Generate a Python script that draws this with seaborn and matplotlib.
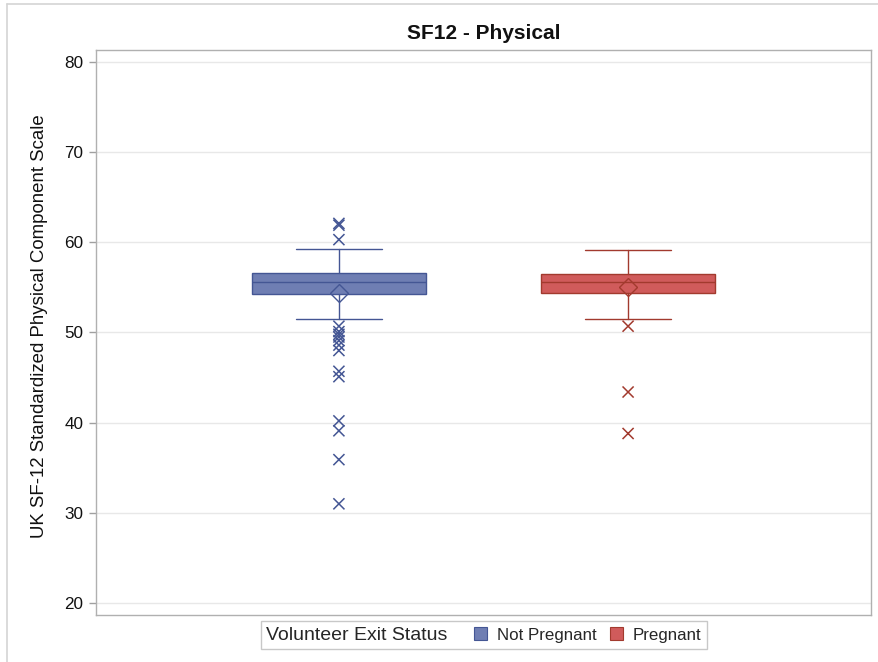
import matplotlib
matplotlib.use("Agg")
import matplotlib.pyplot as plt
import pandas as pd
import seaborn as sns
from matplotlib.lines import Line2D
from matplotlib.patches import Patch
from matplotlib.offsetbox import HPacker

# Box statistics per exit status
groups = ["Not Pregnant", "Pregnant"]
whisker_low = [51.5, 51.5]
q1 = [54.25, 54.4]
median = [55.6, 55.6]
q3 = [56.55, 56.5]
whisker_high = [59.3, 59.2]
mean = [54.4, 55.0]

outliers_not_pregnant = [62.1, 61.9, 60.3, 50.7, 50.1, 49.8, 49.5, 49.1,
                         48.6, 48.0, 45.7, 45.1, 40.2, 39.1, 35.9, 31.0]
outliers_pregnant = [50.7, 43.4, 38.8]

y_ticks = [20, 30, 40, 50, 60, 70, 80]

fill_colors = ["#6F7EB3", "#D05B5B"]
edge_colors = ["#445694", "#A23A2E"]

sns.set_theme(style="white")
plt.rcParams["font.family"] = ["Liberation Sans", "DejaVu Sans"]

fig = plt.figure(figsize=(8.79, 6.62), dpi=100)
ax = fig.add_axes([96 / 879, 47 / 662, 775 / 879, 565 / 662])

# Outliers drawn through seaborn's categorical axis
outlier_df = pd.DataFrame({
    "status": [groups[0]] * len(outliers_not_pregnant) + [groups[1]] * len(outliers_pregnant),
    "score": outliers_not_pregnant + outliers_pregnant,
})
sns.stripplot(data=outlier_df, x="status", y="score", hue="status",
              order=groups, hue_order=groups,
              palette=dict(zip(groups, edge_colors)),
              jitter=False, marker="x", s=8, linewidth=1.1,
              legend=False, ax=ax, zorder=4)
for coll in ax.collections:
    fc = coll.get_facecolors()
    if len(fc):
        coll.set_edgecolors(fc)

# Boxes from the summary statistics
stats = []
for i, g in enumerate(groups):
    stats.append(dict(label=g, whislo=whisker_low[i], q1=q1[i], med=median[i],
                      q3=q3[i], whishi=whisker_high[i], mean=mean[i], fliers=[]))
bp = ax.bxp(stats, positions=range(len(groups)), widths=0.6, patch_artist=True,
            showmeans=True, showfliers=False, manage_ticks=False)
for i in range(len(groups)):
    box = bp["boxes"][i]
    box.set_facecolor(fill_colors[i])
    box.set_edgecolor(edge_colors[i])
    box.set_linewidth(1.0)
    box.set_zorder(2)
    bp["medians"][i].set_color(edge_colors[i])
    bp["medians"][i].set_linewidth(1.0)
    bp["medians"][i].set_zorder(3)
    for ln in bp["whiskers"][2 * i:2 * i + 2] + bp["caps"][2 * i:2 * i + 2]:
        ln.set_color(edge_colors[i])
        ln.set_linewidth(1.0)
        ln.set_zorder(2)
    m = bp["means"][i]
    m.set_marker("D")
    m.set_markersize(9)
    m.set_markerfacecolor("none")
    m.set_markeredgecolor(edge_colors[i])
    m.set_markeredgewidth(1.0)
    m.set_zorder(3)

ax.set_xlim(-0.84, 1.84)
ax.set_ylim(18.67, 81.33)
ax.set_yticks(y_ticks)
ax.set_xticks([])
ax.set_xlabel("")
ax.set_ylabel("UK SF-12 Standardized Physical Component Scale",
              fontsize=13.4, color="#111111")
ax.yaxis.set_label_coords(-48 / 775, 0.512)
ax.set_title("SF12 - Physical", fontsize=15, fontweight="bold",
             color="#111111", pad=8)
ax.yaxis.grid(True, color="#E8E8E8", linewidth=1.0, zorder=0)
ax.set_axisbelow(True)
ax.tick_params(axis="y", which="major", left=True, length=5, width=1,
               color="#A0A0A0", labelsize=12.3, labelcolor="#111111", pad=4)
for sp in ax.spines.values():
    sp.set_color("#B0B0B0")
    sp.set_linewidth(1.0)

# Legend with the title placed inline to the left of the entries
handles = [Patch(facecolor=fill_colors[i], edgecolor=edge_colors[i], linewidth=0.8)
           for i in range(len(groups))]
leg = fig.legend(handles, groups, title="Volunteer Exit Status", ncol=2,
                 loc="center", bbox_to_anchor=(484 / 879, 1 - 635 / 662),
                 fontsize=12.2, title_fontsize=14, frameon=True, fancybox=False,
                 edgecolor="#C8C8C8", framealpha=1, handlelength=0.75,
                 handleheight=0.75, handletextpad=0.6, columnspacing=0.8,
                 borderpad=0.3, borderaxespad=0)
leg.get_frame().set_linewidth(1.0)
lb = leg._legend_box
lb._children = [HPacker(pad=0, sep=19, align="center",
                        children=[leg._legend_title_box, leg._legend_handle_box])]

# Light outer border
fig.add_artist(Line2D([7 / 879, 1], [1 - 4 / 662, 1 - 4 / 662],
                      transform=fig.transFigure, color="#D4D4D4", linewidth=1.2))
fig.add_artist(Line2D([7 / 879, 7 / 879], [0, 1 - 4 / 662],
                      transform=fig.transFigure, color="#D4D4D4", linewidth=1.2))

fig.savefig("out.png", dpi=100, facecolor="white")
